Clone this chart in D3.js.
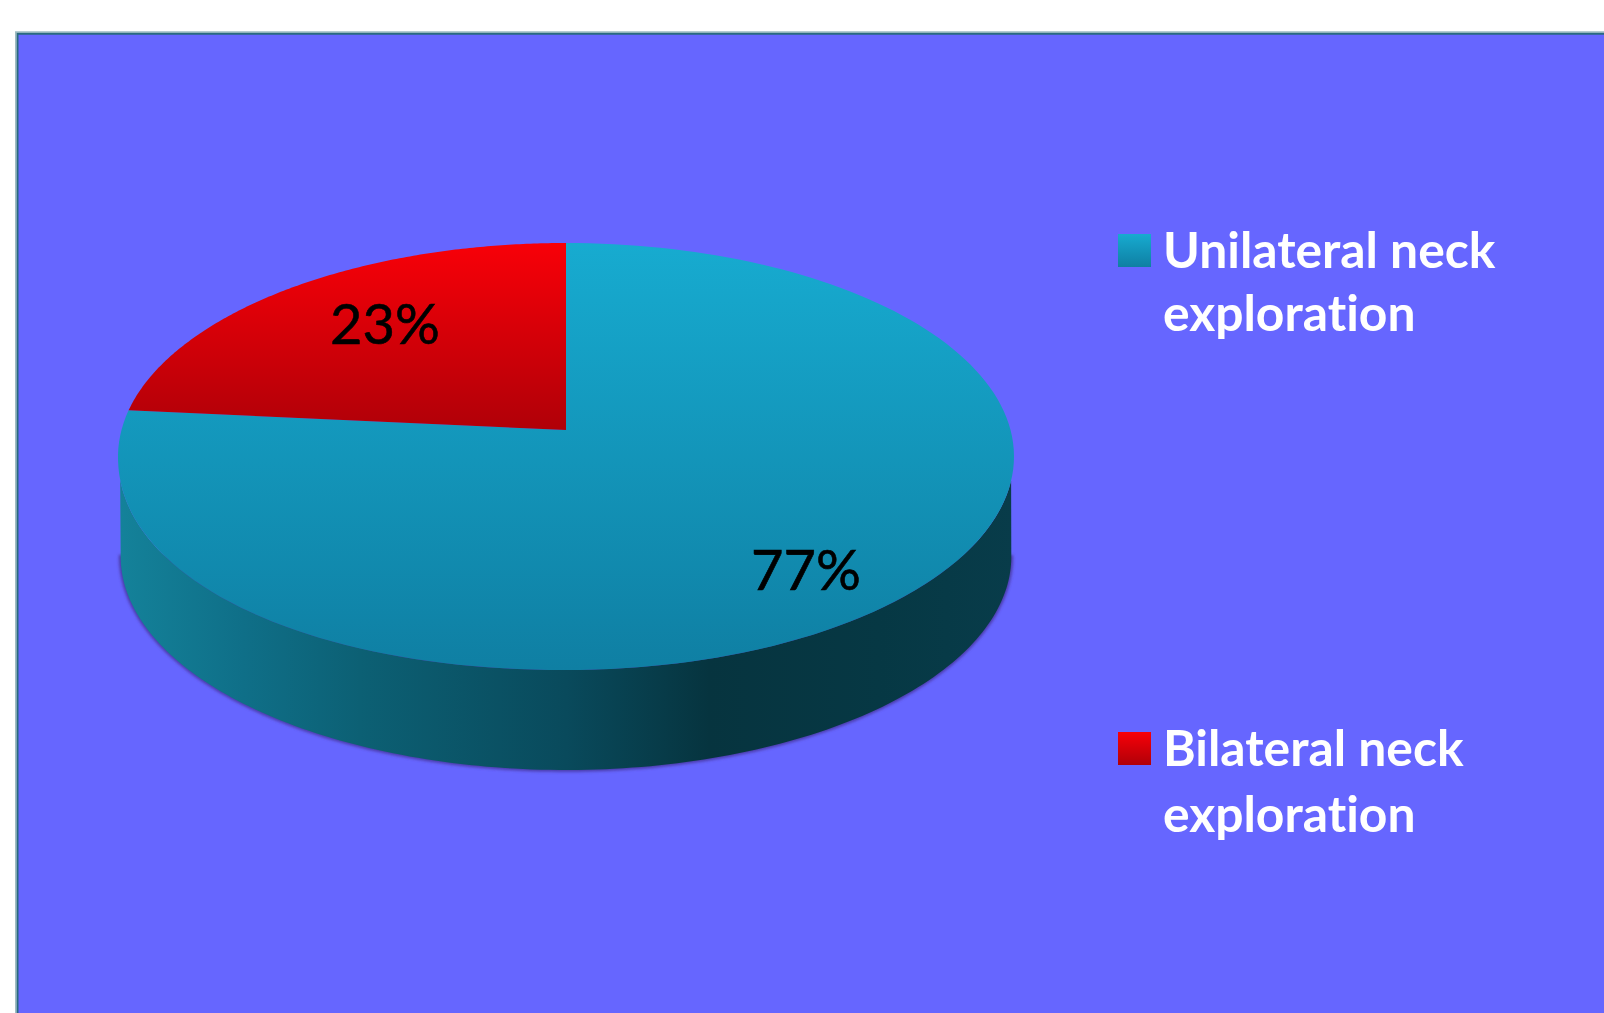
<!DOCTYPE html>
<html>
<head>
<meta charset="utf-8">
<title>Neck exploration</title>
<script src="https://cdn.jsdelivr.net/npm/d3@7"></script>
<style>
  html, body { margin: 0; padding: 0; background: #fff; }
  svg { display: block; }
  text { font-family: Lato, "Open Sans", sans-serif; font-variant-ligatures: none; }
</style>
</head>
<body>
<svg id="chart" width="1604" height="1013"></svg>
<script>
const categories = ["Unilateral neck exploration", "Bilateral neck exploration"];
const shares = [77, 23];
const shareLabels = ["77%", "23%"];
const legendLines = [["Unilateral neck", "exploration"], ["Bilateral neck", "exploration"]];
const topStops = [["#17abd0", "#0f7fa3"], ["#f80008", "#b00008"]];

const width = 1604, height = 1013;
const svg = d3.select("#chart");
const defs = svg.append("defs");

// Disk geometry: a tilted circle seen in perspective, so its hub sits above
// the centre of the drawn ellipse.
const cx = 566, rimTop = 243, rimBottom = 670, hubY = 430, halfWidth = 448, depth = 100;
const rimMid = (rimTop + rimBottom) / 2, rimHalf = (rimBottom - rimTop) / 2;
const persp = (rimBottom + rimTop - 2 * hubY) / (rimBottom - rimTop);
const slope = (rimTop * (1 + persp) - rimBottom * (1 - persp)) / 2;
const spread = halfWidth * Math.sqrt(1 - persp * persp);
const viewTwist = 0.0314;    // the camera sits slightly off axis
const frontLeftBulge = 2.08; // superellipse exponent of the near left quarter
const lowerShrink = 0.994;   // the far rim of the wall reads slightly narrower

function project(angle, drop = 0, shrink = 1, bulge = frontLeftBulge) {
  const a = angle - viewTwist * Math.sin(angle) ** 2;
  const u = Math.sin(a), v = Math.cos(a), w = persp * v + 1;
  let ex = spread * u / w / halfWidth;
  let ey = ((slope * v + hubY) / w - rimMid) / rimHalf;
  if (ex < 0 && ey > 0) {
    const s = (Math.abs(ex) ** bulge + ey ** bulge) ** (-1 / bulge);
    ex *= s; ey *= s;
  }
  return [cx + halfWidth * shrink * ex, rimMid + rimHalf * ey + drop];
}

const sweep = (a0, a1) => d3.range(0, 161).map(i => a0 + (a1 - a0) * i / 160);
const pathOf = d3.line().curve(d3.curveLinear);

// Slices run clockwise from twelve o'clock, with the smaller share ending there.
const pie = d3.pie().value(d => d).sort(null).startAngle(0).endAngle(2 * Math.PI);
const slices = pie(shares);

// The wall spans the rim between its two widest points; its vertical sides
// meet the top rim where that rim is as wide as the lower one.
const widest = Math.acos(-persp);
const rimLow = widest + viewTwist, rimHigh = 2 * Math.PI - widest + viewTwist;
const sideInset = Math.acos(lowerShrink);
const lowerRim = (a0, a1) => sweep(a0, a1).map(a => project(a, depth, lowerShrink, 2));

function sideOutline(a0, a1) {
  const upper = sweep(a0 + sideInset, a1 - sideInset).map(a => project(a));
  return pathOf(upper.concat(lowerRim(a1, a0))) + "Z";
}

// Fill gradients
slices.forEach((s, i) => {
  const g = defs.append("linearGradient")
    .attr("id", "top" + i).attr("x1", 0).attr("x2", 0).attr("y1", 0).attr("y2", 1);
  g.append("stop").attr("offset", 0).attr("stop-color", topStops[i][0]);
  g.append("stop").attr("offset", 1).attr("stop-color", topStops[i][1]);
});

const wallStops = [
  [0, "#14829a"], [0.14, "#0f6f88"], [0.27, "#0c6074"], [0.5, "#094a5c"],
  [0.66, "#06343f"], [0.85, "#063844"], [1, "#083c4a"]
];
const wall = defs.append("linearGradient")
  .attr("id", "wall").attr("gradientUnits", "userSpaceOnUse")
  .attr("x1", cx - halfWidth).attr("x2", cx + halfWidth).attr("y1", 0).attr("y2", 0);
wallStops.forEach(([o, c]) => wall.append("stop").attr("offset", o).attr("stop-color", c));

defs.append("filter").attr("id", "soft")
  .attr("x", "-5%").attr("y", "-5%").attr("width", "110%").attr("height", "110%")
  .append("feGaussianBlur").attr("stdDeviation", 1.6);

// Panel and its top/left rule
svg.append("rect").attr("x", 17).attr("y", 33).attr("width", width - 17).attr("height", height - 33)
  .attr("fill", "#6666ff");
svg.append("path").attr("d", `M15.7,${height}V32H${width}`)
  .attr("fill", "none").attr("stroke", "#9fbcc4").attr("stroke-width", 1.4);
svg.append("path").attr("d", `M17.5,${height}V33.7H${width}`)
  .attr("fill", "none").attr("stroke", "#2a6a80").attr("stroke-width", 2);

// Side wall with a soft shadow along its lower rim
svg.append("path").attr("d", pathOf(lowerRim(rimLow, rimHigh)) + "Z")
  .attr("fill", "#4a3aa8").attr("stroke", "#4a3aa8").attr("stroke-width", 3.5)
  .attr("filter", "url(#soft)");
svg.append("path").attr("d", sideOutline(rimLow, rimHigh)).attr("fill", "url(#wall)");

// Top face
svg.append("g").selectAll("path").data(slices).join("path")
  .attr("d", s => pathOf([[cx, hubY], ...sweep(s.startAngle, s.endAngle).map(a => project(a))]) + "Z")
  .attr("fill", (s, i) => `url(#top${i})`);

// Value labels
const labelSpots = [[806, 590], [385, 344]];
svg.append("g").selectAll("text").data(shareLabels).join("text")
  .attr("x", (d, i) => labelSpots[i][0]).attr("y", (d, i) => labelSpots[i][1])
  .attr("text-anchor", "middle").attr("font-size", 56).attr("fill", "#000")
  .attr("stroke", "#000").attr("stroke-width", 0.6)
  .text(d => d);

// Legend
const legendTops = [234, 732];
const legendBaselines = [[268, 331], [766, 832]];
const legend = svg.append("g").selectAll("g").data(categories).join("g");
legend.append("rect")
  .attr("x", 1118).attr("y", (d, i) => legendTops[i]).attr("width", 33).attr("height", 33)
  .attr("fill", (d, i) => `url(#top${i})`);
legendLines.forEach((lines, i) => {
  lines.forEach((line, j) => {
    svg.append("text").attr("x", 1163).attr("y", legendBaselines[i][j])
      .attr("font-size", 49.8).attr("font-weight", 700).attr("fill", "#fff").text(line);
  });
});
</script>
</body>
</html>
